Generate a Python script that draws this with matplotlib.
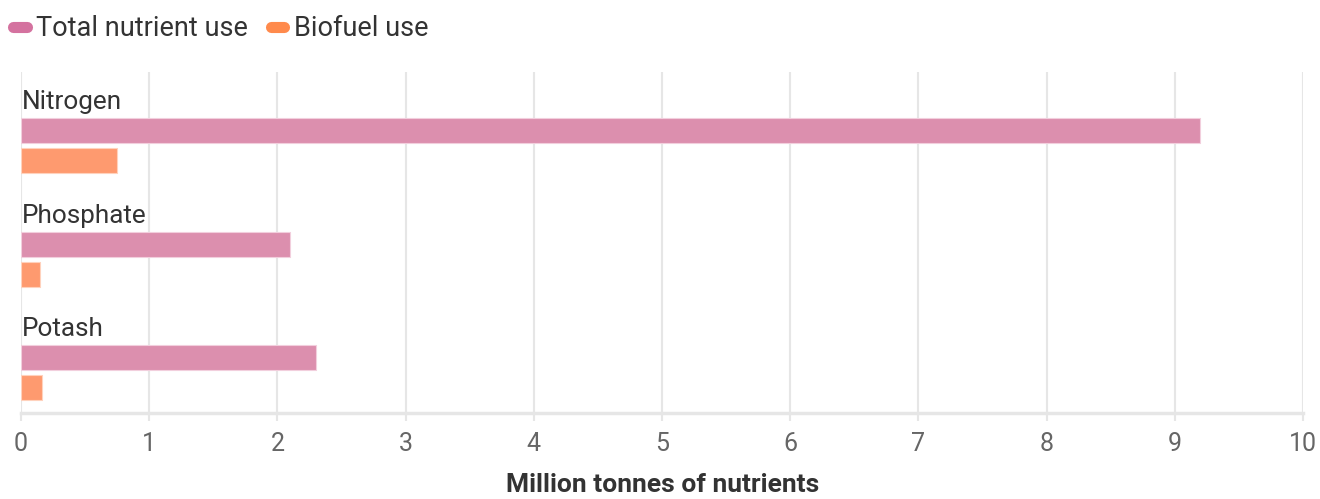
import matplotlib
matplotlib.use('Agg')
import matplotlib.pyplot as plt
from matplotlib.lines import Line2D

plt.rcParams['font.family'] = ['Roboto', 'DejaVu Sans']

# data
nutrients = ['Nitrogen', 'Phosphate', 'Potash']
total_use = [9.2, 2.1, 2.3]
biofuel_use = [0.75, 0.15, 0.16]
series_names = ['Total nutrient use', 'Biofuel use']
series_colors = ['#d4729f', '#ff8a4c']
bar_colors = ['#dc8fae', '#fe9a6f']
x_ticks = list(range(0, 11))
x_label = 'Million tonnes of nutrients'

fig = plt.figure(figsize=(13.2, 4.99), dpi=100)
W, H = 1320, 499
ax = fig.add_axes([21 / W, (H - 413) / H, (1303 - 21) / W, (413 - 72) / H])

pos = list(range(len(nutrients)))
ax.barh([p + 0.515 for p in pos], total_use, height=0.22, color=bar_colors[0],
        edgecolor='#f2cfdd', linewidth=0.8, zorder=3)
ax.barh([p + 0.778 for p in pos], biofuel_use, height=0.22, color=bar_colors[1],
        edgecolor='#ffd2bd', linewidth=0.8, zorder=3)

for p, name in zip(pos, nutrients):
    ax.text(0.01, p + 0.265, name, fontsize=18.8, color='#333333', va='center', ha='left', zorder=4)

ax.set_xlim(0, 10)
ax.set_ylim(3, 0)
ax.set_xticks(x_ticks)
ax.set_yticks([])
ax.grid(axis='x', color='#e6e6e6', linewidth=1.5, zorder=0)
for s in ['top', 'right', 'left']:
    ax.spines[s].set_visible(False)
ax.spines['bottom'].set_color('#e6e6e6')
ax.spines['bottom'].set_linewidth(2.5)
ax.tick_params(axis='x', length=6, width=1.5, color='#e6e6e6', labelcolor='#666666',
               labelsize=18, pad=8)

handles = [Line2D([0], [0], color=c, linewidth=8, solid_capstyle='round') for c in series_colors]
fig.legend(handles, series_names, loc='center left', bbox_to_anchor=(13 / W, 1 - 29 / H),
           ncol=2, frameon=False, fontsize=19.5, handlelength=0.5, handletextpad=0.35,
           columnspacing=0.85, labelcolor='#333333', borderaxespad=0, borderpad=0)

fig.text(663 / W, 2 / H, x_label, fontsize=19, fontweight='bold', color='#333333',
         ha='center', va='bottom')

fig.savefig('out.png', dpi=100)
